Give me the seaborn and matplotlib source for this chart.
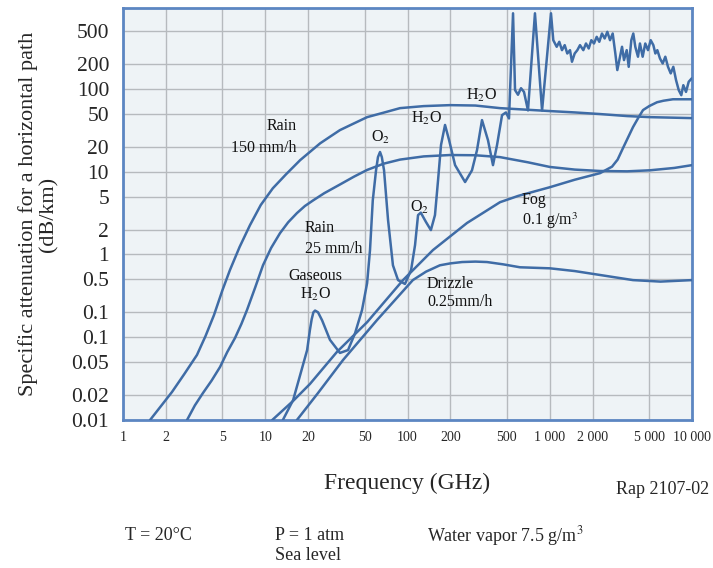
import numpy as np
import pandas as pd
import matplotlib
matplotlib.use("Agg")
import matplotlib.pyplot as plt
from matplotlib.ticker import NullLocator
import seaborn as sns

# ---------- data (frequency GHz, attenuation dB/km) ----------
rain150_f = [1.55, 2.21, 2.7, 3.31, 3.8, 4.36, 5.0, 5.65, 6.6, 7.81, 9.3, 11.3, 14, 17.6, 20, 24.3, 28,
             33.5, 40, 52, 70, 88.6, 130, 199, 300, 447, 700, 1004, 1500, 2256, 3500, 5070, 10000]
rain150_a = [0.01, 0.0218, 0.036, 0.061, 0.103, 0.185, 0.37, 0.65, 1.23, 2.26, 3.96, 6.3, 9.3, 13.8, 16.6, 22, 25.9,
             31.8, 36.8, 45.6, 52.4, 58.6, 62, 63.7, 63, 58.6, 56, 54, 52, 49.7, 47, 45.6, 44.4]

rain25_f = [2.82, 3.2, 3.65, 4.2, 4.81, 5.4, 6.13, 6.8, 7.44, 8.5, 9.64, 11, 12.7, 14.5, 16.7, 19, 21.7, 26,
            33.5, 42, 52, 68, 88.6, 130, 199, 300, 447, 700, 1004, 1500, 2256, 3500, 5070, 7500, 10000]
rain25_a = [0.01, 0.015, 0.0212, 0.03, 0.0437, 0.066, 0.098, 0.145, 0.213, 0.4, 0.74, 1.2, 1.81, 2.45, 3.16, 3.85, 4.5, 5.5,
            7.0, 8.7, 10.5, 12.5, 14.0, 15.3, 15.9, 15.8, 15.0, 13, 11.4, 10.6, 10.2, 10.1, 10.4, 11.1, 12.0]

fog_f = [11.2, 15.7, 20.6, 31.9, 52, 93, 151, 262, 447, 600, 1004, 1500, 2256, 2740, 3000, 3273, 3849,
         4200, 4525, 5000, 5676, 6300, 7350, 10000]
fog_a = [0.01, 0.017, 0.0272, 0.0664, 0.152, 0.49, 1.13, 2.4, 4.28, 5.1, 6.5, 8.0, 9.6, 11.5, 14, 19.3, 34.6,
         45, 55.5, 62, 69, 72, 75, 75]

drizzle_f = [16.7, 23.5, 35.2, 61, 109, 135, 169, 200, 242, 300, 362, 470, 618, 1004, 1500, 2256, 3849, 6000, 10000]
drizzle_a = [0.01, 0.0212, 0.053, 0.161, 0.49, 0.62, 0.74, 0.78, 0.81, 0.82, 0.81, 0.76, 0.70, 0.68, 0.63, 0.565, 0.49, 0.47, 0.49]

gas_f = [13.3, 15.7, 17.6, 19.7, 20.6, 21.2, 21.8, 22.4, 23.5, 25.1, 28.5, 33.5, 38.2, 42.8, 47.9, 52, 54.5,
         57, 60.1, 62, 64.1, 66, 68.4, 73, 79, 85.8, 96, 106, 113, 118.6, 124, 135, 146, 156, 164, 172,
         183.6, 196, 216, 254, 284, 308, 334, 368, 399, 426, 462, 492, 517, 552, 570, 598, 628,
         659, 703, 787, 883, 1020,
         1059, 1119, 1167, 1219, 1274, 1328, 1388, 1433, 1497, 1563, 1632, 1722, 1798, 1879,
         1960, 2047, 2138, 2230, 2329, 2432, 2540, 2653, 2770, 2891, 2985, 3119, 3222, 3327,
         3475, 3590, 3745, 3866, 3994, 4171, 4306, 4499, 4694, 4906, 5124, 5350, 5526, 5706,
         5957, 6223, 6492, 6780, 7086, 7390, 7722, 8068, 8410, 8690, 9075, 9480, 9955, 10000]
gas_a = [0.01, 0.0174, 0.035, 0.07, 0.122, 0.165, 0.2, 0.21, 0.2, 0.16, 0.093, 0.0646, 0.07, 0.112, 0.213,
         0.45, 1.13, 4.5, 10.4, 15, 17.3, 15, 10.4, 2.6, 0.74, 0.49, 0.44, 0.65, 1.3, 2.99, 3.2, 2.46,
         1.97, 2.99, 7.9, 21, 36.7, 24.1, 12, 7.5, 10.4, 18.2, 42, 24, 12, 21, 48.2, 52, 44,
         820, 97, 85, 102, 92, 55, 820, 55, 820,
         388, 323, 371, 294, 338, 268, 294, 213, 268, 294, 338, 294, 354, 308,
         388, 354, 426, 371, 467, 407, 490, 388, 467, 268, 169, 245, 323, 223,
         294, 185, 388, 467, 323, 245, 354, 245, 354, 294, 388, 338, 268, 294,
         233, 203, 245, 185, 154, 185, 128, 96.7, 84, 111, 92, 122, 134, 134]

x_ticks = [1, 2, 5, 10, 20, 50, 100, 200, 500, 1000, 2000, 5000, 10000]
x_labels = ["1", "2", "5", "10", "20", "50", "100", "200", "500", "1 000", "2 000", "5 000", "10 000"]
y_ticks = [0.01, 0.02, 0.05, 0.1, 0.2, 0.5, 1, 2, 5, 10, 20, 50, 100, 200, 500]
y_labels = ["0.01", "0.02", "0.05", "0.1", "0.1", "0.5", "1", "2", "5", "10", "20", "50", "100", "200", "500"]

curves = [(rain150_f, rain150_a), (rain25_f, rain25_a), (fog_f, fog_a),
          (drizzle_f, drizzle_a), (gas_f, gas_a)]

# ---------- style ----------
sns.set_theme(style="white")
plt.rcParams['font.family'] = ['Liberation Serif', 'DejaVu Serif']
plt.rcParams['mathtext.fontset'] = 'stix'

line_col = "#3f6ca6"
frame_col = "#5c86c2"

fig = plt.figure(figsize=(7.13, 5.68), dpi=100)
ax = fig.add_axes([123 / 713, 1 - 420 / 568, 569 / 713, 412 / 568])
ax.set_facecolor("#eef3f6")

for f, a in curves:
    sns.lineplot(x=f, y=a, ax=ax, color=line_col, linewidth=1.8,
                 sort=False, estimator=None, zorder=3)

ax.set_xscale('log')
ax.set_yscale('log')
ax.set_xlim(1, 10000)
ax.set_ylim(0.01, 950)

ax.set_xticks(x_ticks)
ax.set_xticklabels(x_labels, fontsize=10)
ax.set_yticks(y_ticks)
ax.set_yticklabels(y_labels, fontsize=15.5)
ax.xaxis.set_minor_locator(NullLocator())
ax.yaxis.set_minor_locator(NullLocator())
ax.tick_params(axis='x', length=0, pad=8)
ax.tick_params(axis='y', length=0, pad=10)
ax.grid(True, color="#b6babe", linewidth=1.0, zorder=0)
ax.set_axisbelow(True)
for s in ax.spines.values():
    s.set_color(frame_col)
    s.set_linewidth(2)

ax.set_ylabel("Specific attenuation for a horizontal path\n(dB/km)", fontsize=16, linespacing=1.1)
ax.yaxis.label.set_va('center')
ax.yaxis.set_label_coords(-0.1494, 0.5)
ax.set_xlabel("Frequency (GHz)", fontsize=17)
ax.xaxis.label.set_va('center')
ax.xaxis.set_label_coords(0.5, -0.155)

# curve labels
lab = dict(fontsize=11.5, color="#111111", va='center', zorder=4)
ax.text(16.7, 26.2, "Rain\n150 mm/h", ha='right', multialignment='right', linespacing=1.5, **lab)
ax.text(19.0, 1.56, "Rain\n25 mm/h", ha='left', linespacing=1.45, **lab)
ax.text(22.4, 0.427, "Gaseous\nH$_2$O", ha='center', multialignment='center', linespacing=1.15, **lab)
ax.text(137, 0.342, "Drizzle\n0.25mm/h", ha='left', linespacing=1.15, **lab)
ax.text(638, 3.34, "Fog\n0.1 g/m$^3$", ha='left', linespacing=1.15, **lab)
ax.text(65.1, 26.2, "O$_2$", ha='center', **lab)
ax.text(137, 44.4, "H$_2$O", ha='center', **lab)
ax.text(329, 84, "H$_2$O", ha='center', **lab)
ax.text(122, 3.73, "O$_2$", ha='center', **lab)

# notes under the chart
fig.text(663 / 713, 1 - 489 / 568, "Rap 2107-02", fontsize=13, ha='center', va='center')
fig.text(125 / 713, 1 - 536 / 568, "T = 20°C", fontsize=13, ha='left', va='center')
fig.text(275 / 713, 1 - 536 / 568, "P = 1 atm", fontsize=13, ha='left', va='center')
fig.text(275 / 713, 1 - 556 / 568, "Sea level", fontsize=13, ha='left', va='center')
fig.text(427 / 713, 1 - 536 / 568, "Water vapor 7.5 g/m$^3$", fontsize=13, ha='left', va='center')

fig.savefig("out.png", dpi=100, facecolor="white")
